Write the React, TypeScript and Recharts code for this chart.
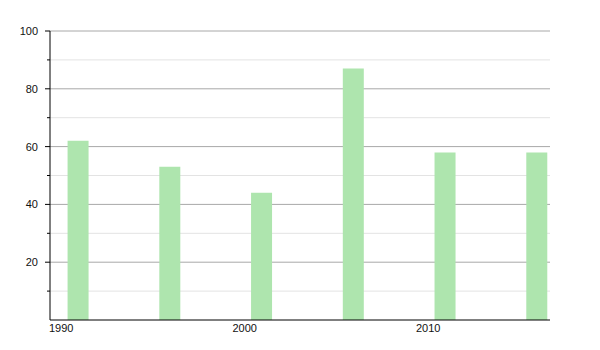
import { BarChart, Bar, XAxis, YAxis, CartesianGrid } from "recharts"

const years = [1991, 1996, 2001, 2006, 2011, 2016]
const values = [62, 53, 44, 87, 58, 58]
const xTicks = [1990, 2000, 2010]
const majorTicks = [20, 40, 60, 80, 100]
const minorTicks = [10, 30, 50, 70, 90]
const yMax = 100

// each bar covers roughly one year starting at its year
const data = years.map((year, i) => ({ x: year + 0.55, value: values[i] }))

const YTick = ({ x, y, payload }: any) => {
  const major = majorTicks.includes(payload.value)
  return (
    <g>
      <line x1={x - (major ? 5 : 3)} x2={x} y1={y} y2={y} stroke="#000" />
      {major && (
        <text x={x - 12} y={y + 4} textAnchor="end" fontSize={11} fill="#111" stroke="none">
          {payload.value}
        </text>
      )}
    </g>
  )
}

const XTick = ({ x, y, payload }: any) => (
  <text x={x - 1} y={y + 12} textAnchor="start" fontSize={11} fill="#111" stroke="none">
    {payload.value}
  </text>
)

// grid rows for a given set of values, using the y scale when recharts hands it over
const gridAt = (vals: number[]) => ({ yAxis, offset }: any) =>
  vals.map((v) =>
    typeof yAxis?.scale === "function"
      ? yAxis.scale(v)
      : offset.top + offset.height * (1 - v / yMax)
  )

export default function App() {
  return (
    <div style={{ position: "absolute", left: 0, top: 0, fontFamily: "'Liberation Sans', Arial, sans-serif" }}>
      <BarChart width={600} height={350} data={data} margin={{ top: 31, right: 50, left: 0, bottom: 0 }}>
        <CartesianGrid vertical={false} stroke="#e3e3e3" horizontalCoordinatesGenerator={gridAt(minorTicks)} />
        <CartesianGrid vertical={false} stroke="#a8a8a8" horizontalCoordinatesGenerator={gridAt(majorTicks)} />
        <XAxis
          dataKey="x"
          type="number"
          domain={[1990, 2017.25]}
          ticks={xTicks}
          height={30}
          tickSize={0}
          tickMargin={0}
          tickLine={false}
          axisLine={{ stroke: "#000" }}
          tick={<XTick />}
          allowDataOverflow
        />
        <YAxis
          domain={[0, yMax]}
          ticks={[...minorTicks, ...majorTicks].sort((a, b) => a - b)}
          width={50}
          tickSize={0}
          tickMargin={0}
          tickLine={false}
          axisLine={{ stroke: "#000" }}
          tick={<YTick />}
        />
        <Bar dataKey="value" fill="#aee5ae" barSize={21} isAnimationActive={false} />
      </BarChart>
    </div>
  )
}
